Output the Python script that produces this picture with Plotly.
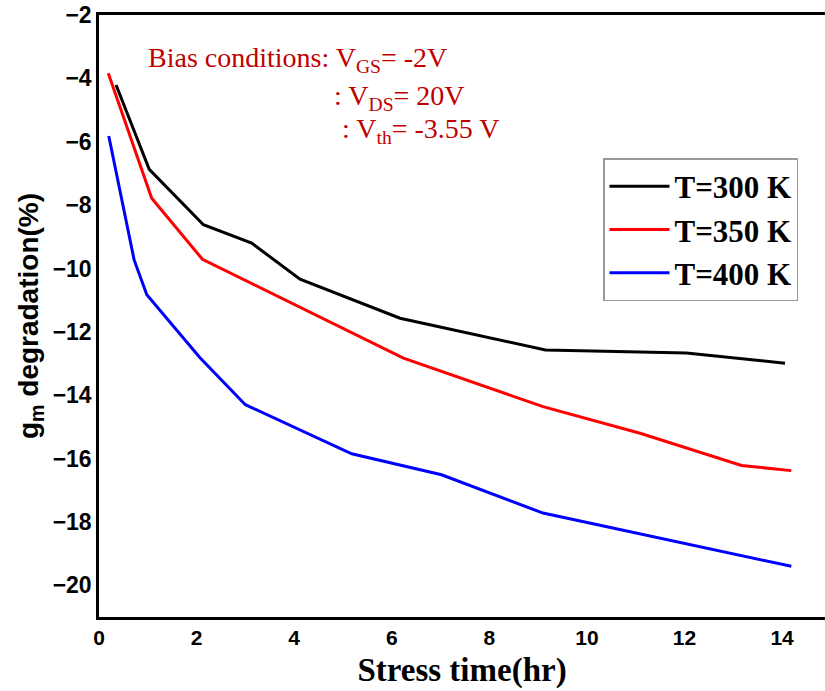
import plotly.graph_objects as go

# Data
t300_x = [0.35, 1.03, 2.14, 3.13, 4.12, 6.17, 9.15, 12.04, 14.06]
t300_y = [-4.21, -6.87, -8.62, -9.20, -10.34, -11.57, -12.57, -12.67, -12.99]

t350_x = [0.19, 1.08, 2.12, 6.24, 9.10, 11.09, 13.17, 14.19]
t350_y = [-3.84, -7.78, -9.71, -12.83, -14.36, -15.20, -16.22, -16.38]

t400_x = [0.20, 0.72, 0.98, 2.07, 3.00, 5.18, 7.02, 9.10, 14.19]
t400_y = [-5.82, -9.73, -10.83, -12.82, -14.30, -15.85, -16.51, -17.72, -19.40]

series_names = ["T=300 K", "T=350 K", "T=400 K"]
series_colors = ["#000000", "#FF0000", "#0000FF"]

x_ticks = [0, 2, 4, 6, 8, 10, 12, 14]
y_ticks = [-20, -18, -16, -14, -12, -10, -8, -6, -4, -2]

fig = go.Figure()
for xs, ys, name, col in zip([t300_x, t350_x, t400_x], [t300_y, t350_y, t400_y],
                             series_names, series_colors):
    fig.add_trace(go.Scatter(x=xs, y=ys, mode="lines", name=name,
                             line=dict(color=col, width=3)))

ann_font = dict(family="Liberation Serif, Times New Roman, serif", size=28, color="#C00000")
fig.add_annotation(xref="paper", yref="paper", x=(146 - 99) / 726, y=1 - (60 - 15) / 602,
                   xanchor="left", yanchor="middle", showarrow=False, font=ann_font,
                   text="Bias conditions: V<sub>GS</sub>= -2V")
fig.add_annotation(xref="paper", yref="paper", x=(332 - 99) / 726, y=1 - (97 - 15) / 602,
                   xanchor="left", yanchor="middle", showarrow=False, font=ann_font,
                   text=": V<sub>DS</sub>= 20V")
fig.add_annotation(xref="paper", yref="paper", x=(340 - 99) / 726, y=1 - (130 - 15) / 602,
                   xanchor="left", yanchor="middle", showarrow=False, font=ann_font,
                   text=": V<sub>th</sub>= -3.55 V")

fig.update_layout(
    width=825, height=691,
    margin=dict(l=99, r=0, t=15, b=74),
    plot_bgcolor="white", paper_bgcolor="white",
    showlegend=True,
    legend=dict(x=(603 - 99) / 726, y=1 - (158 - 15) / 602, xanchor="left", yanchor="top",
                bgcolor="white", bordercolor="#999999", borderwidth=1.5,
                font=dict(family="Liberation Serif, Times New Roman, serif", size=31,
                          color="black", weight="bold"),
                itemwidth=60, tracegroupgap=0),
    xaxis=dict(range=[0, 14.88], tickvals=x_ticks, ticks="", showgrid=False, zeroline=False,
               showline=True, linecolor="black", linewidth=2.5, mirror=True,
               tickfont=dict(family="Liberation Sans, Arial, sans-serif", size=21,
                             color="black", weight="bold"),
               title=dict(text="Stress time(hr)", standoff=10,
                          font=dict(family="Liberation Serif, Times New Roman, serif", size=33,
                                    color="black", weight="bold"))),
    yaxis=dict(range=[-21, -2], tickvals=y_ticks, ticks="", showgrid=False, zeroline=False,
               showline=True, linecolor="black", linewidth=2.5, mirror=False,
               ticklabelstandoff=0,
               tickfont=dict(family="Liberation Sans, Arial, sans-serif", size=23,
                             color="black", weight="bold"),
               title=dict(text="g<sub>m</sub> degradation(%)", standoff=6,
                          font=dict(family="Liberation Sans, Arial, sans-serif", size=28,
                                    color="black", weight="bold"))),
)

fig.write_html("out.html")
